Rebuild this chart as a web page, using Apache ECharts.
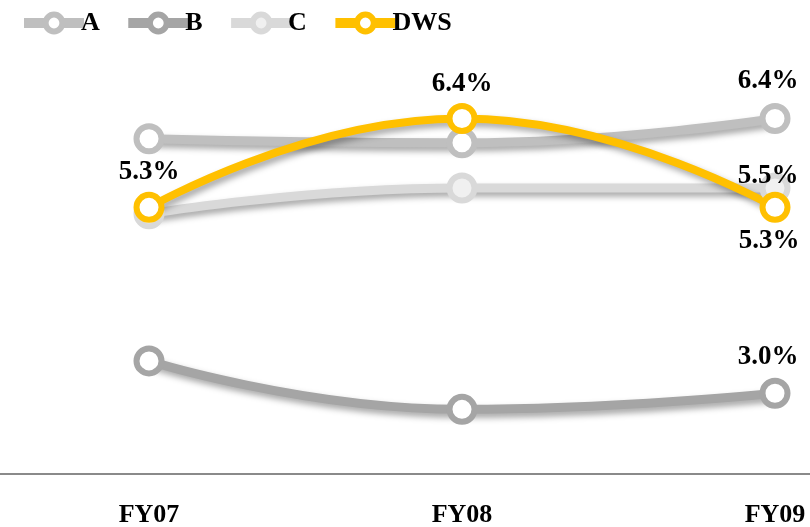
<!DOCTYPE html>
<html>
<head>
<meta charset="utf-8">
<script src="https://cdn.jsdelivr.net/npm/echarts@6/dist/echarts.min.js"></script>
<style>html,body{margin:0;padding:0;background:#fff}#c{width:810px;height:527px}</style>
</head>
<body>
<div id="c"></div>
<script>
const categories = ['FY07', 'FY08', 'FY09'];
const seriesNames = ['A', 'B', 'C', 'DWS'];
const valuesA = [6.15, 6.1, 6.4];
const valuesB = [3.4, 2.8, 3.0];
const valuesC = [5.22, 5.54, 5.54];
const valuesDWS = [5.3, 6.4, 5.3];

const FONT = "'Liberation Serif','Times New Roman',serif";
const colors = { A: '#bfbfbf', B: '#a5a5a5', C: '#d9d9d9', DWS: '#ffc000' };
const inners = { A: '#ffffff', B: '#ffffff', C: '#f0f0f0', DWS: '#ffffff' };
const shadow = { shadowColor: 'rgba(0,0,0,0.35)', shadowBlur: 6, shadowOffsetX: 3, shadowOffsetY: 4 };
const labelBase = { color: '#000', fontFamily: FONT, fontWeight: 'bold', fontSize: 27, formatter: p => p.value.toFixed(1) + '%' };

function mk(name, vals, labelIdx, width, labelOpts) {
  return {
    name, type: 'line', smooth: true, symbol: 'circle', symbolSize: 25,
    lineStyle: Object.assign({ color: colors[name], width: width }, shadow),
    itemStyle: { color: inners[name], borderColor: colors[name], borderWidth: 6 },
    label: { show: false },
    emphasis: { disabled: true },
    data: vals.map((v, i) => {
      const d = { value: v };
      if (labelIdx.includes(i)) {
        d.label = Object.assign({ show: true }, labelBase, labelOpts[i] || {});
      }
      return d;
    })
  };
}

const chart = echarts.init(document.getElementById('c'), null, { renderer: 'canvas' });
chart.setOption({
  animation: false,
  legend: {
    left: 14, top: 5, itemWidth: 60, itemHeight: 21, itemGap: 23.5,
    data: seriesNames,
    lineStyle: { width: 10 },
    itemStyle: { borderWidth: 6 },
    textStyle: { color: '#000', fontFamily: FONT, fontWeight: 'bold', fontSize: 26, padding: [0, 0, 0, -8] }
  },
  grid: { left: -7.5, width: 939, top: 70, height: 404, outerBoundsMode: 'none', containLabel: false },
  xAxis: {
    type: 'category', data: categories, boundaryGap: true,
    axisLine: { lineStyle: { color: '#8a8a8a', width: 2 } },
    axisTick: { show: false },
    axisLabel: { color: '#000', fontFamily: FONT, fontWeight: 'bold', fontSize: 26, margin: 28 }
  },
  yAxis: { type: 'value', min: 2, max: 7, show: false, splitLine: { show: false } },
  series: [
    mk('A', valuesA, [2], 9, { 2: { position: 'top', distance: 8, offset: [-7, 0] } }),
    mk('B', valuesB, [2], 9, { 2: { position: 'top', distance: 7, offset: [-7, 0] } }),
    mk('C', valuesC, [2], 9, { 2: { position: 'top', distance: 8, offset: [-7, 25] } }),
    mk('DWS', valuesDWS, [0, 1, 2], 8, {
      0: { position: 'top', distance: 6 },
      1: { position: 'top', distance: 5 },
      2: { position: 'bottom', distance: 5, offset: [-6, 0] }
    })
  ]
});
</script>
</body>
</html>
